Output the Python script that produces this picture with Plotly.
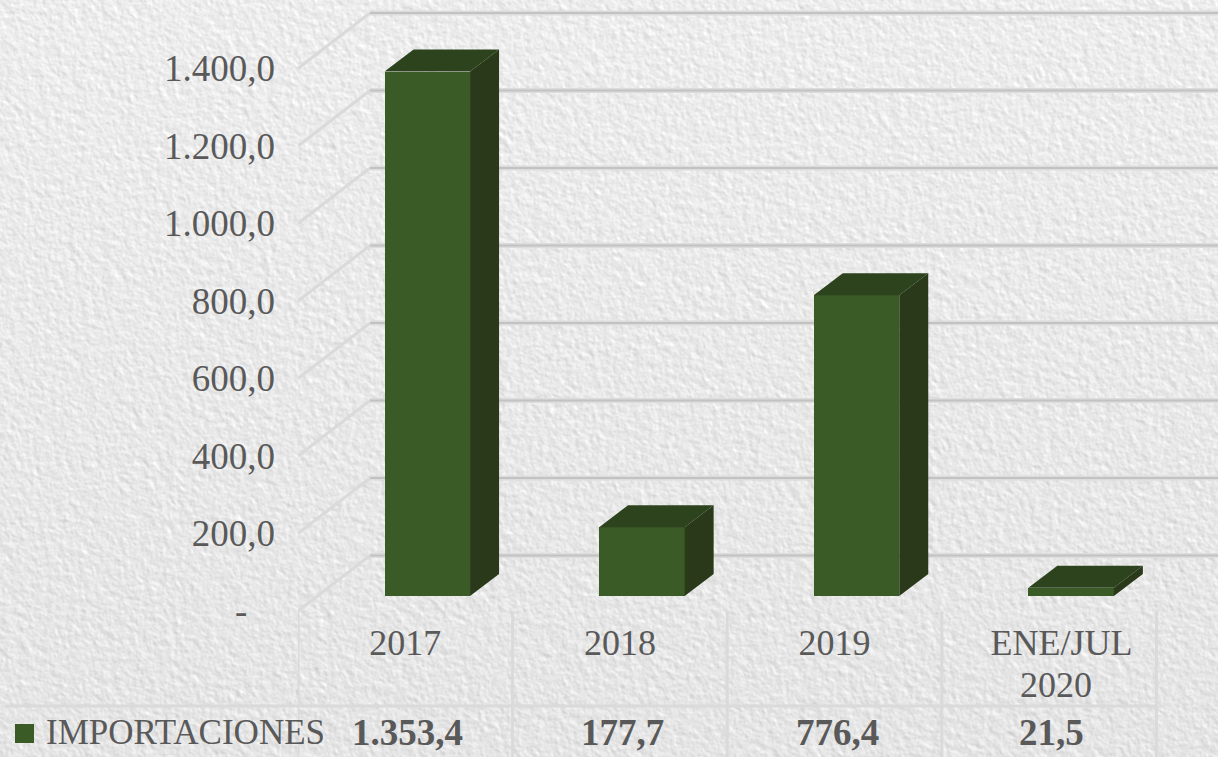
import base64, struct, zlib
import numpy as np
import plotly.graph_objects as go

# ---- data ----
categories = ["2017", "2018", "2019", "ENE/JUL<br>2020"]
importaciones = [1353.4, 177.7, 776.4, 21.5]
y_ticks = [0, 200, 400, 600, 800, 1000, 1200, 1400]
series_name = "IMPORTACIONES"

W, H = 1218, 757
TEXT = "#595959"
FRONT, SIDE, TOP = "#3a5a26", "#29391a", "#2c431e"
FONT = "Liberation Serif"


def es(v, dec=1):
    return f"{v:,.{dec}f}".replace(",", "X").replace(".", ",").replace("X", ".")


# ---- paper texture (deterministic, decoration only) ----
def paper_png():
    yy, xx = np.mgrid[0:H, 0:W].astype(float)
    h = np.sin(xx * 12.9898 + yy * 78.233) * 43758.5453
    h = h - np.floor(h) - 0.5
    fy = np.fft.fftfreq(H)[:, None]
    fx = np.fft.rfftfreq(W)[None, :]
    r2 = fx ** 2 + fy ** 2
    F = np.fft.rfft2(h)
    a = np.fft.irfft2(F * np.exp(-r2 * 2 * (np.pi * 1.0) ** 2), s=(H, W))
    b = np.fft.irfft2(F * np.exp(-r2 * 2 * (np.pi * 2.2) ** 2), s=(H, W))
    a /= a.std()
    b /= b.std()
    surf = a + 1.5 * b
    emb = surf - np.roll(np.roll(surf, 1, 0), -1, 1)
    emb /= emb.std()
    base = 237 - 8 * (yy / H)
    img = np.clip(base + 6.0 * emb, 0, 255).astype(np.uint8)
    raw = b"".join(b"\x00" + img[i].tobytes() for i in range(H))

    def chunk(t, d):
        return struct.pack(">I", len(d)) + t + d + struct.pack(">I", zlib.crc32(t + d))

    png = (b"\x89PNG\r\n\x1a\n" + chunk(b"IHDR", struct.pack(">IIBBBBB", W, H, 8, 0, 0, 0, 0))
           + chunk(b"IDAT", zlib.compress(raw, 9)) + chunk(b"IEND", b""))
    return "data:image/png;base64," + base64.b64encode(png).decode()


# ---- axis geometry ----
PX_X = 214.6          # pixels per category
PX_Y = 0.3875         # pixels per unit
X0, Y0 = 298, 611     # pixel of front-left floor corner
x_max = -0.5 + (W - X0) / PX_X
y_max = Y0 / PX_Y
pos = np.arange(len(categories), dtype=float)

bar_shift = 22 / PX_X       # bars stand a little way into the floor
bar_base = 15 / PX_Y
bar_w = 85.5 / PX_X
dx = 29 / PX_X              # bar depth
dy = 22 / PX_Y
wall_dx = 72 / PX_X         # wall depth
wall_dy = 55.5 / PX_Y

fig = go.Figure()

shapes = []
for t in y_ticks:
    # side wall
    shapes.append(dict(type="line", layer="below", xref="x", yref="y", x0=-0.5, x1=-0.5 + wall_dx,
                       y0=t, y1=t + wall_dy, line=dict(color="#dadada", width=3)))
    # back wall (light band with darker core)
    shapes.append(dict(type="line", layer="below", xref="x", yref="y", x0=-0.5 + wall_dx, x1=x_max,
                       y0=t + wall_dy, y1=t + wall_dy, line=dict(color="#dcdcdc", width=5)))
    shapes.append(dict(type="line", layer="below", xref="x", yref="y", x0=-0.5 + wall_dx, x1=x_max,
                       y0=t + wall_dy, y1=t + wall_dy, line=dict(color="#c2c2c2", width=2)))

# data table grid
row_y = 1 - 706 / H
for i in range(len(categories) + 1):
    shapes.append(dict(type="line", layer="below", xref="x", yref="paper", x0=i - 0.5, x1=i - 0.5,
                       y0=0, y1=1 - Y0 / H, line=dict(color="#dadada", width=3)))
shapes.append(dict(type="line", layer="below", xref="paper", yref="paper", x0=5 / W,
                   x1=(X0 + PX_X * len(categories)) / W, y0=row_y, y1=row_y,
                   line=dict(color="#dadada", width=3)))
# legend key
shapes.append(dict(type="rect", xref="paper", yref="paper", x0=15 / W, x1=34 / W,
                   y0=1 - 743 / H, y1=1 - 724 / H, fillcolor=FRONT, line=dict(width=0)))

# front faces
fig.add_trace(go.Bar(x=pos + bar_shift, y=importaciones, base=bar_base, width=bar_w,
                     marker=dict(color=FRONT, line=dict(width=0)), name=series_name,
                     showlegend=False, hoverinfo="y"))

# side and top faces, derived from the values
sx, sy, tx, ty = [], [], [], []
for p, v in zip(pos, importaciones):
    l = p + bar_shift - bar_w / 2
    r = p + bar_shift + bar_w / 2
    b = bar_base
    u = bar_base + v
    sx += [r, r + dx, r + dx, r, r, None]
    sy += [b, b + dy, u + dy, u, b, None]
    tx += [l, l + dx, r + dx, r, l, None]
    ty += [u, u + dy, u + dy, u, u, None]
fig.add_trace(go.Scatter(x=sx, y=sy, mode="lines", fill="toself", fillcolor=SIDE,
                         line=dict(width=0, color=SIDE), showlegend=False, hoverinfo="skip"))
fig.add_trace(go.Scatter(x=tx, y=ty, mode="lines", fill="toself", fillcolor=TOP,
                         line=dict(width=0, color=TOP), showlegend=False, hoverinfo="skip"))

# data table text
annotations = [dict(x=44 / W, y=1 - 732 / H, xref="paper", yref="paper", xanchor="left", yanchor="middle",
                    text=series_name, showarrow=False, font=dict(family=FONT, size=35, color=TEXT))]
for p, v in zip(pos, importaciones):
    annotations.append(dict(x=p + 0.012, y=1 - 732 / H, xref="x", yref="paper", xanchor="center", yanchor="middle",
                            text=f"<b>{es(v)}</b>", showarrow=False,
                            font=dict(family=FONT, size=37, color=TEXT)))
# second line of a two-line category, set tighter than a native tick label allows
first_lines = [c.split("<br>")[0] for c in categories]
for p, c in zip(pos, categories):
    if "<br>" in c:
        annotations.append(dict(x=p + 0.03, y=1 - 685 / H, xref="x", yref="paper", xanchor="center",
                                yanchor="middle", text=c.split("<br>")[1], showarrow=False,
                                font=dict(family=FONT, size=36, color=TEXT)))

tick_text = ["-\u00a0\u00a0\u00a0"] + [es(t) for t in y_ticks[1:]]

fig.update_layout(
    width=W, height=H, autosize=False,
    margin=dict(l=0, r=0, t=0, b=0, autoexpand=False),
    paper_bgcolor="#e9e9e9", plot_bgcolor="rgba(0,0,0,0)",
    shapes=shapes, annotations=annotations,
    images=[dict(source=paper_png(), xref="paper", yref="paper", x=0, y=1, sizex=1, sizey=1,
                 sizing="stretch", xanchor="left", yanchor="top", layer="below")],
    bargap=0,
    xaxis=dict(domain=[X0 / W, 1], range=[-0.5, x_max], automargin=False, showgrid=False, zeroline=False,
               showline=False, tickmode="array", tickvals=list(pos[:3]) + [pos[3] + 0.058], ticktext=first_lines,
               ticks="", ticklabelstandoff=7, tickangle=0,
               tickfont=dict(family=FONT, size=36, color=TEXT)),
    yaxis=dict(domain=[1 - Y0 / H, 1], range=[0, y_max], automargin=False, showgrid=False, zeroline=False,
               showline=False, tickmode="array", tickvals=y_ticks, ticktext=tick_text,
               ticks="", ticklabelstandoff=22,
               tickfont=dict(family=FONT, size=37, color=TEXT)),
)

fig.write_html("out.html", config={"displayModeBar": False},
               post_script="document.body.style.margin='0';document.body.style.overflow='hidden';")
